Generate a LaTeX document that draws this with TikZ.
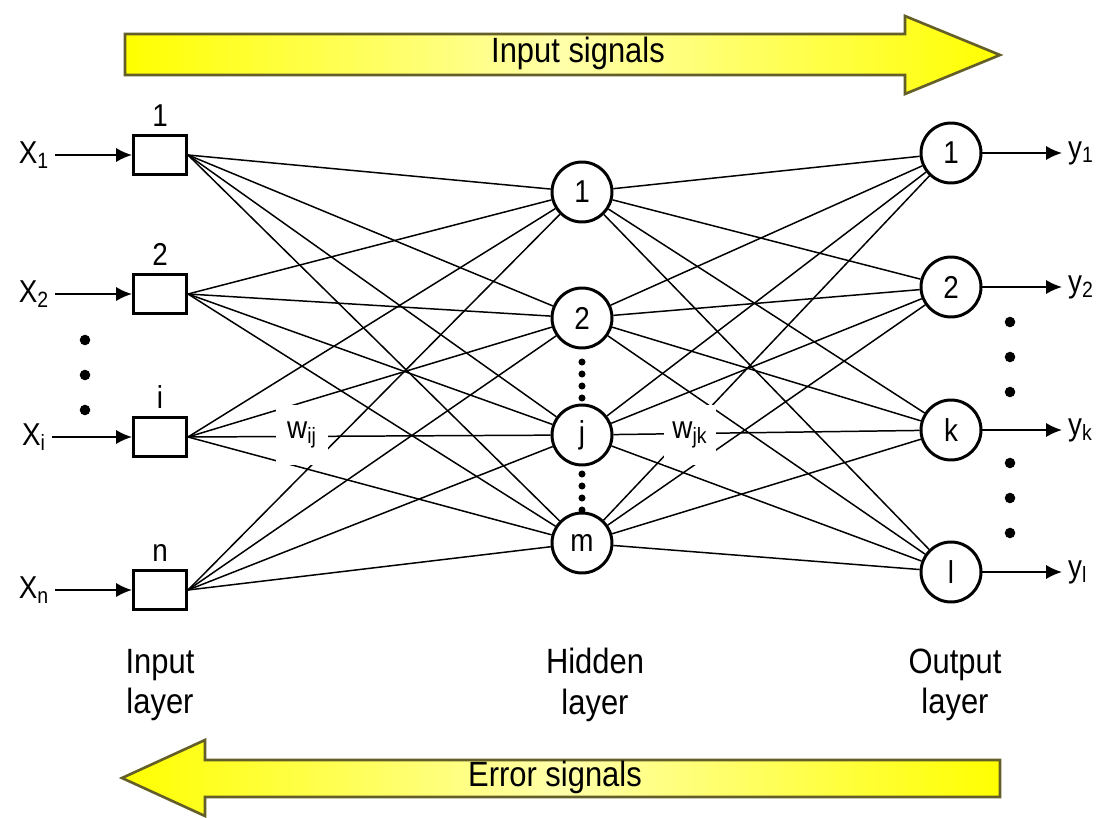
\documentclass[tikz,border=0pt]{standalone}
\usepackage{fontspec}
\setmainfont[FakeStretch=0.88]{Liberation Sans}
\usetikzlibrary{arrows.meta}
\definecolor{arrowEdge}{RGB}{100,95,40}
\definecolor{arrowYellow}{RGB}{255,255,0}
\definecolor{arrowPale}{RGB}{255,255,170}

\begin{document}
\begin{tikzpicture}[x=0.02cm, y=-0.02cm,
  font=\fontsize{18}{21}\selectfont,
  inbox/.style={draw, line width=1.7pt, minimum width=1.06cm, minimum height=0.78cm, inner sep=0pt},
  neuron/.style={draw, circle, line width=1.7pt, minimum size=1.2cm, inner sep=0pt},
  wire/.style={line width=0.85pt},
  feed/.style={line width=1pt, -{Latex[length=9pt,width=8pt]}},
  bigarrow/.style={draw=arrowEdge, line width=1.5pt, left color=arrowYellow,
    right color=arrowYellow, middle color=arrowPale},
  weight/.style={fill=white, inner sep=2pt, minimum width=1.05cm, minimum height=1.2cm},
  bigtext/.style={font=\fontsize{20}{23}\selectfont, align=center}]

  \useasboundingbox (0,0) rectangle (1110,818);

  % --- Signal arrows, top (forward) and bottom (backward) ---
  \draw[bigarrow] (125,34) -- (905,34) -- (905,16) -- (1000,55) -- (905,94)
    -- (905,75) -- (125,75) -- cycle;
  \node[bigtext] (insig) at (578,53) {Input signals};
  \draw[bigarrow] (1000,760) -- (205,760) -- (205,740) -- (122,778) -- (205,816)
    -- (205,797) -- (1000,797) -- cycle;
  \node[bigtext] (errsig) at (555,777) {Error signals};

  % --- Neurons of the three layers ---
  \foreach \n/\y in {1/155,2/294,i/437,n/590} {
    \node[inbox] (in\n) at (160,\y) {};
    \node[above=1pt] (inlab\n) at (in\n.north) {\n};
    \node (x\n) at (34,\y) {X\textsubscript{\n}};
    \draw[feed] (x\n) -- (in\n);
  }
  \foreach \n/\y in {1/192,2/318,j/435,m/543}
    \node[neuron] (hid\n) at (582,\y) {\n};
  \foreach \n/\y in {1/153,2/287,k/430,l/572} {
    \node[neuron] (out\n) at (951,\y) {\n};
    \node[anchor=west] (y\n) at (1062,\y) {y\textsubscript{\n}};
    \draw[feed] (out\n) -- (y\n);
  }

  % --- Weighted links, every node to every node of the next layer ---
  \foreach \a in {1,2,i,n}
    \foreach \b in {1,2,j,m}
      \draw[wire] (in\a.east) -- (hid\b);
  \foreach \b in {1,2,j,m}
    \foreach \c in {1,2,k,l}
      \draw[wire] (hid\b) -- (out\c);

  \node[weight] (wij) at (302,435) {w\textsubscript{ij}};
  \node[weight] (wjk) at (690,435) {w\textsubscript{jk}};

  % --- Ellipsis dots ---
  \foreach \y in {340,375,410} \fill (85,\y) circle (3pt);
  \foreach \y in {362,374,386,398,474,486,498,510} \fill (582,\y) circle (2pt);
  \foreach \y in {322,357,392,463,498,533} \fill (1010,\y) circle (3pt);

  % --- Layer names ---
  \node[bigtext] (inname) at (160,685) {Input\\layer};
  \node[bigtext] (hidname) at (595,685) {Hidden\\layer};
  \node[bigtext] (outname) at (955,685) {Output\\layer};

\end{tikzpicture}
\end{document}
